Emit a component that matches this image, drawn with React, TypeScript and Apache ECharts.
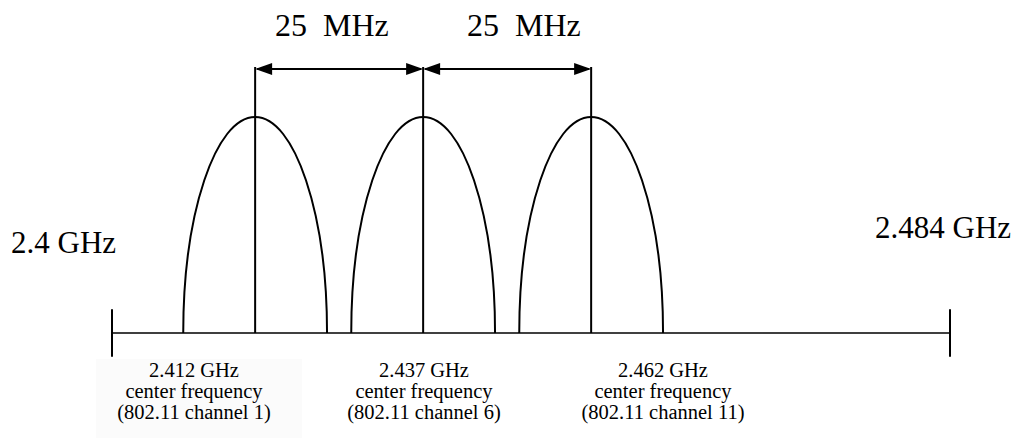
import React, { useEffect, useRef } from "react";
import * as echarts from "echarts";

// ---- data (frequencies in MHz, levels in relative units) ----
const channelCenters = [2412, 2437, 2462];
const channelFreqLabels = ["2.412 GHz", "2.437 GHz", "2.462 GHz"];
const channelNumberLabels = ["(802.11 channel 1)", "(802.11 channel 6)", "(802.11 channel 11)"];
const centerLabel = "center frequency";
const channelHalfWidth = 10.7; // as drawn
const peakLevel = 0.815;
const arrowLevel = 1.0;
const spacingPairs = [
  [2412, 2437],
  [2437, 2462],
];
const spacingLabels = ["25  MHz", "25  MHz"];
const bandEdgeLabels = ["2.4 GHz", "2.484 GHz"];
const axisMin = 2390.7;
const axisMax = 2515.4;
const edgeTickHalf = 0.09;

// ---- layout ----
const FONT = '"Liberation Serif", "Times New Roman", serif';
const spacingLabelX = [275, 467];
const spacingLabelY = 25;
const bandEdgeX = [11, 875];
const bandEdgeY = [242, 227];
const bottomLabelX = [194, 424, 663];
const bottomLineY = [370, 391, 412];
const bottomFontSize = 20.5;

export default function App() {
  const ref = useRef<HTMLDivElement>(null);

  useEffect(() => {
    if (!ref.current) return;
    const chart = echarts.init(ref.current, null, { renderer: "svg" });

    const graphics: any[] = [
      {
        type: "rect",
        z: -10,
        shape: { x: 96, y: 359, width: 206, height: 79 },
        style: { fill: "#fbfbfb" },
      },
    ];
    spacingLabels.forEach((t, i) =>
      graphics.push({
        type: "text",
        x: spacingLabelX[i],
        y: spacingLabelY,
        style: { text: t, font: `32px ${FONT}`, fill: "#000", textAlign: "left", textVerticalAlign: "middle" },
      })
    );
    bandEdgeLabels.forEach((t, i) =>
      graphics.push({
        type: "text",
        x: bandEdgeX[i],
        y: bandEdgeY[i],
        style: { text: t, font: `31px ${FONT}`, fill: "#000", textAlign: "left", textVerticalAlign: "middle" },
      })
    );
    channelCenters.forEach((_, i) => {
      const lines = [channelFreqLabels[i], centerLabel, channelNumberLabels[i]];
      lines.forEach((t, j) =>
        graphics.push({
          type: "text",
          x: bottomLabelX[i],
          y: bottomLineY[j],
          style: {
            text: t,
            font: `${bottomFontSize}px ${FONT}`,
            lineHeight: 20,
            fill: "#000",
            textAlign: "center",
            textVerticalAlign: "middle",
          },
        })
      );
    });

    const K = 0.5523;

    chart.setOption({
      animation: false,
      backgroundColor: "#fff",
      grid: { left: 112, right: 68, top: 68, bottom: 105 },
      xAxis: {
        type: "value",
        min: axisMin,
        max: axisMax,
        axisLine: { show: true, onZero: true, lineStyle: { color: "#000", width: 1.5 } },
        axisTick: { show: false },
        axisLabel: { show: false },
        splitLine: { show: false },
      },
      yAxis: {
        type: "value",
        min: 0,
        max: 1,
        show: false,
        splitLine: { show: false },
      },
      graphic: graphics,
      series: [
        {
          type: "custom",
          name: "channels",
          silent: true,
          data: channelCenters.map((c) => [c, channelHalfWidth, peakLevel]),
          renderItem: (params: any, api: any) => {
            const c = api.value(0);
            const hw = api.value(1);
            const pk = api.value(2);
            const L = api.coord([c - hw, 0]);
            const R = api.coord([c + hw, 0]);
            const T = api.coord([c, pk]);
            const rx = (R[0] - L[0]) / 2;
            const ry = L[1] - T[1];
            const cx = T[0];
            const by = L[1];
            const d =
              `M${L[0]} ${by} C${L[0]} ${by - K * ry} ${cx - K * rx} ${T[1]} ${cx} ${T[1]} ` +
              `C${cx + K * rx} ${T[1]} ${R[0]} ${by - K * ry} ${R[0]} ${by}`;
            return {
              type: "path",
              shape: { pathData: d },
              style: { fill: "none", stroke: "#000", lineWidth: 2 },
            };
          },
        },
        {
          type: "custom",
          name: "centers",
          silent: true,
          data: channelCenters.map((c) => [c, arrowLevel]),
          renderItem: (params: any, api: any) => {
            const a = api.coord([api.value(0), 0]);
            const b = api.coord([api.value(0), api.value(1)]);
            return {
              type: "line",
              shape: { x1: a[0], y1: a[1], x2: b[0], y2: b[1] - 1 },
              style: { stroke: "#000", lineWidth: 2 },
            };
          },
        },
        {
          type: "custom",
          name: "spacing",
          silent: true,
          data: spacingPairs.map((p) => [p[0], p[1], arrowLevel]),
          renderItem: (params: any, api: any) => {
            const a = api.coord([api.value(0), api.value(2)]);
            const b = api.coord([api.value(1), api.value(2)]);
            const y = a[1] + 1;
            const len = 17;
            const h = 6;
            return {
              type: "group",
              children: [
                {
                  type: "line",
                  shape: { x1: a[0] + 2, y1: y, x2: b[0] - 2, y2: y },
                  style: { stroke: "#000", lineWidth: 2 },
                },
                {
                  type: "polygon",
                  shape: { points: [[a[0], y], [a[0] + len, y - h], [a[0] + len, y + h]] },
                  style: { fill: "#000" },
                },
                {
                  type: "polygon",
                  shape: { points: [[b[0], y], [b[0] - len, y - h], [b[0] - len, y + h]] },
                  style: { fill: "#000" },
                },
              ],
            };
          },
        },
        {
          type: "custom",
          name: "edges",
          silent: true,
          data: [[axisMin], [axisMax]],
          renderItem: (params: any, api: any) => {
            const a = api.coord([api.value(0), edgeTickHalf]);
            const b = api.coord([api.value(0), -edgeTickHalf]);
            return {
              type: "line",
              shape: { x1: a[0], y1: a[1], x2: b[0], y2: b[1] },
              style: { stroke: "#000", lineWidth: 2 },
            };
          },
        },
      ],
    });

    return () => chart.dispose();
  }, []);

  return (
    <div
      ref={ref}
      style={{ position: "fixed", left: 0, top: 0, width: 1018, height: 438, background: "#fff" }}
    />
  );
}
